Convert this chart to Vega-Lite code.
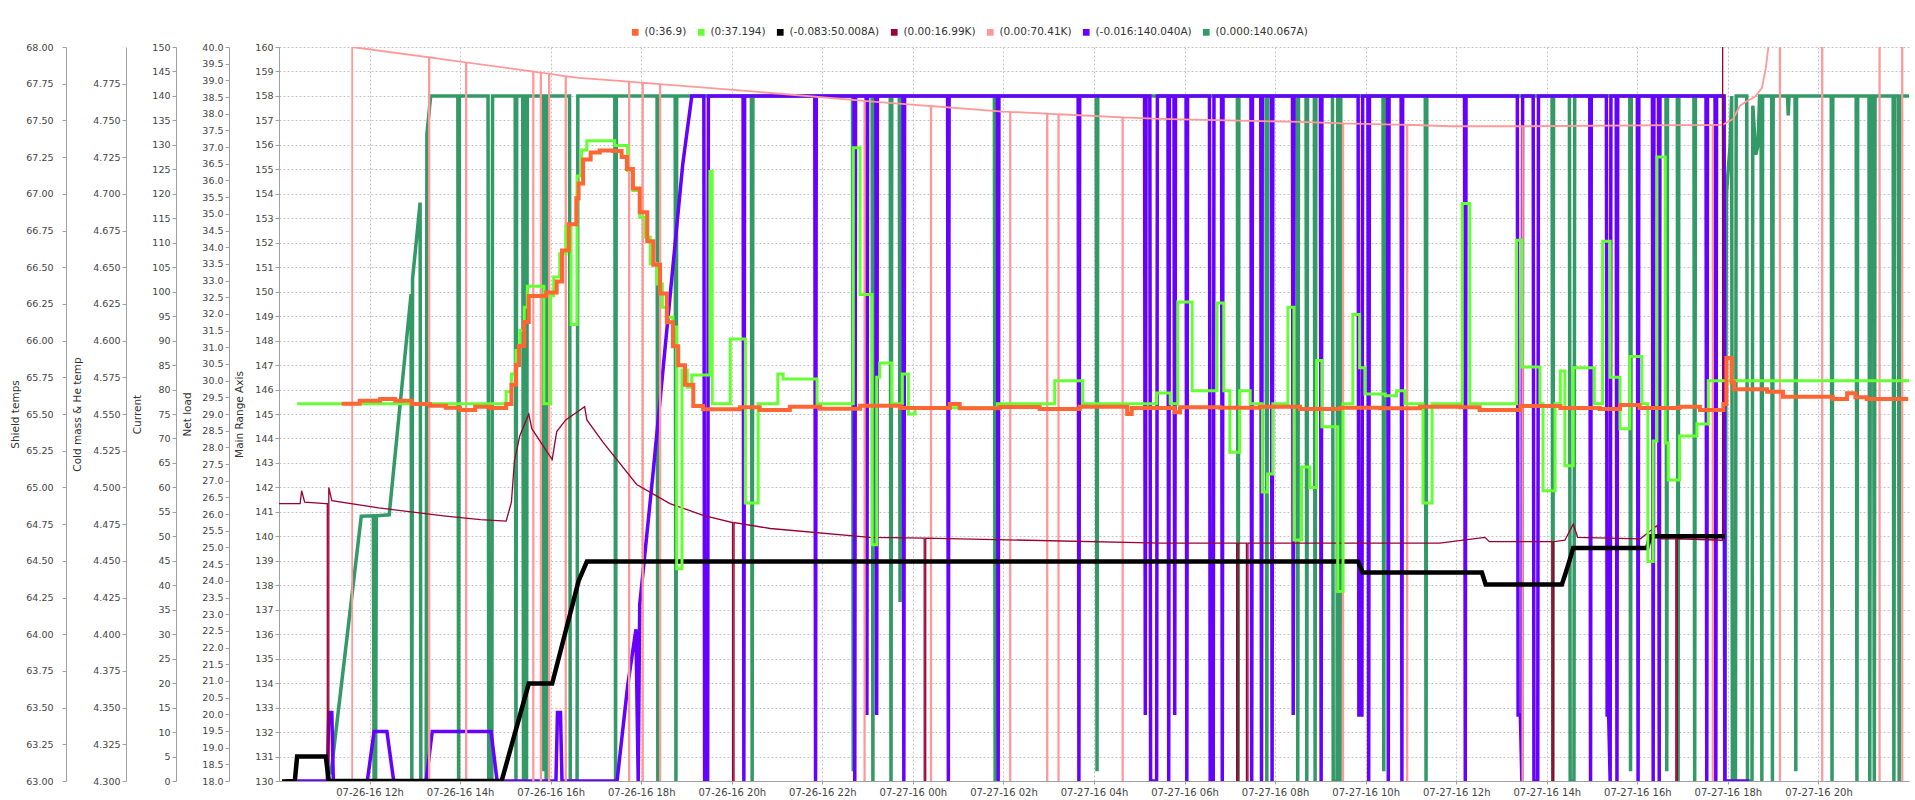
{
"$schema": "https://vega.github.io/schema/vega-lite/v6.json",
"width": 1630,
"height": 734,
"autosize": {"type": "none"},
"padding": {"left": 279, "top": 47, "right": 6, "bottom": 19},
"background": "white",
"config": {
  "view": {"stroke": null},
  "axis": {"domainColor": "#a0a0a0", "tickColor": "#a0a0a0", "labelFont": "DejaVu Sans", "labelFontSize": 9.5, "labelColor": "#444444", "titleFont": "DejaVu Sans", "titleFontSize": 10.5, "titleFontWeight": "normal", "titleColor": "#333333", "tickSize": 4, "labelPadding": 2, "grid": false, "labelFlush": false, "labelOverlap": false}
},
"datasets": {
  "main": [{"t": "2016-07-26T10:00", "v": 130}, {"t": "2016-07-27T22:00", "v": 160}],
  "orange": [
    {"t":"2016-07-26T11:23","v":29.31},{"t":"2016-07-26T11:47","v":29.40},{"t":"2016-07-26T12:14","v":29.45},{"t":"2016-07-26T12:34","v":29.40},{"t":"2016-07-26T12:56","v":29.30},{"t":"2016-07-26T13:20","v":29.25},{"t":"2016-07-26T13:41","v":29.19},{"t":"2016-07-26T14:00","v":29.12},{"t":"2016-07-26T14:20","v":29.22},{"t":"2016-07-26T14:40","v":29.18},{"t":"2016-07-26T15:01","v":29.30},{"t":"2016-07-26T15:08","v":29.88},{"t":"2016-07-26T15:14","v":30.47},{"t":"2016-07-26T15:18","v":31.04},{"t":"2016-07-26T15:25","v":31.76},{"t":"2016-07-26T15:31","v":32.54},{"t":"2016-07-26T15:54","v":32.64},{"t":"2016-07-26T16:08","v":32.97},{"t":"2016-07-26T16:15","v":33.90},{"t":"2016-07-26T16:24","v":34.69},{"t":"2016-07-26T16:34","v":35.47},{"t":"2016-07-26T16:37","v":35.91},{"t":"2016-07-26T16:43","v":36.63},{"t":"2016-07-26T16:53","v":36.84},{"t":"2016-07-26T17:05","v":36.90},{"t":"2016-07-26T17:23","v":36.88},{"t":"2016-07-26T17:34","v":36.70},{"t":"2016-07-26T17:41","v":36.34},{"t":"2016-07-26T17:49","v":35.76},{"t":"2016-07-26T17:58","v":35.05},{"t":"2016-07-26T18:08","v":34.18},{"t":"2016-07-26T18:16","v":33.47},{"t":"2016-07-26T18:25","v":32.61},{"t":"2016-07-26T18:34","v":31.75},{"t":"2016-07-26T18:42","v":31.03},{"t":"2016-07-26T18:49","v":30.46},{"t":"2016-07-26T18:58","v":29.88},{"t":"2016-07-26T19:09","v":29.24},{"t":"2016-07-26T19:22","v":29.14},
    {"t":"2016-07-26T20:11","v":29.20},{"t":"2016-07-26T20:37","v":29.12},{"t":"2016-07-26T21:17","v":29.22},{"t":"2016-07-26T21:57","v":29.16},{"t":"2016-07-26T22:50","v":29.25},{"t":"2016-07-26T23:43","v":29.18},{"t":"2016-07-27T00:49","v":29.30},{"t":"2016-07-27T01:02","v":29.17},{"t":"2016-07-27T01:55","v":29.21},{"t":"2016-07-27T02:48","v":29.15},{"t":"2016-07-27T03:41","v":29.22},{"t":"2016-07-27T04:44","v":29.00},{"t":"2016-07-27T04:50","v":29.18},{"t":"2016-07-27T05:47","v":29.05},{"t":"2016-07-27T05:54","v":29.20},{"t":"2016-07-27T06:47","v":29.19},{"t":"2016-07-27T07:40","v":29.22},{"t":"2016-07-27T08:33","v":29.15},{"t":"2016-07-27T09:26","v":29.19},{"t":"2016-07-27T10:19","v":29.17},{"t":"2016-07-27T11:12","v":29.22},{"t":"2016-07-27T12:05","v":29.20},{"t":"2016-07-27T12:31","v":29.12},{"t":"2016-07-27T13:25","v":29.24},{"t":"2016-07-27T14:18","v":29.18},{"t":"2016-07-27T15:10","v":29.15},{"t":"2016-07-27T15:37","v":29.27},{"t":"2016-07-27T16:03","v":29.18},{"t":"2016-07-27T16:56","v":29.22},{"t":"2016-07-27T17:23","v":29.12},{"t":"2016-07-27T17:54","v":29.30},{"t":"2016-07-27T17:58","v":30.68},{"t":"2016-07-27T18:05","v":29.95},{"t":"2016-07-27T18:08","v":29.74},{"t":"2016-07-27T18:52","v":29.67},{"t":"2016-07-27T19:13","v":29.52},{"t":"2016-07-27T20:19","v":29.45},{"t":"2016-07-27T20:38","v":29.62},{"t":"2016-07-27T20:49","v":29.50},{"t":"2016-07-27T21:04","v":29.45},{"t":"2016-07-27T21:59","v":29.45}
  ],
  "green": [
    {"t":"2016-07-26T10:24","v":29.31},{"t":"2016-07-26T15:01","v":29.67},{"t":"2016-07-26T15:08","v":30.2},{"t":"2016-07-26T15:14","v":30.9},{"t":"2016-07-26T15:19","v":31.5},{"t":"2016-07-26T15:25","v":32.2},{"t":"2016-07-26T15:29","v":32.83},{"t":"2016-07-26T15:51","v":29.31},{"t":"2016-07-26T16:00","v":32.55},{"t":"2016-07-26T16:04","v":33.11},{"t":"2016-07-26T16:12","v":33.8},{"t":"2016-07-26T16:20","v":34.62},{"t":"2016-07-26T16:27","v":31.68},{"t":"2016-07-26T16:35","v":36.13},{"t":"2016-07-26T16:41","v":36.91},{"t":"2016-07-26T16:48","v":37.19},{"t":"2016-07-26T17:25","v":37.05},{"t":"2016-07-26T17:42","v":36.3},{"t":"2016-07-26T17:49","v":35.7},{"t":"2016-07-26T17:58","v":34.9},{"t":"2016-07-26T18:05","v":34.3},{"t":"2016-07-26T18:12","v":33.5},{"t":"2016-07-26T18:21","v":32.9},{"t":"2016-07-26T18:28","v":32.2},{"t":"2016-07-26T18:34","v":31.9},{"t":"2016-07-26T18:42","v":31.61},{"t":"2016-07-26T18:47","v":24.36},{"t":"2016-07-26T18:54","v":30.32},{"t":"2016-07-26T19:01","v":29.8},{"t":"2016-07-26T19:07","v":30.17},{"t":"2016-07-26T19:31","v":36.27},{"t":"2016-07-26T19:34","v":29.31},{"t":"2016-07-26T19:58","v":31.25},{"t":"2016-07-26T20:18","v":26.33},{"t":"2016-07-26T20:35","v":29.31},{"t":"2016-07-26T21:01","v":30.2},{"t":"2016-07-26T21:08","v":30.05},{"t":"2016-07-26T21:53","v":29.31},{"t":"2016-07-26T22:41","v":36.98},{"t":"2016-07-26T22:50","v":32.58},{"t":"2016-07-26T23:06","v":25.08},{"t":"2016-07-26T23:12","v":30.1},{"t":"2016-07-26T23:16","v":30.53},{"t":"2016-07-26T23:32","v":29.31},{"t":"2016-07-26T23:46","v":30.2},{"t":"2016-07-26T23:54","v":29.0},{"t":"2016-07-27T00:03","v":29.19},{"t":"2016-07-27T01:52","v":29.31},{"t":"2016-07-27T03:08","v":30.0},{"t":"2016-07-27T03:45","v":29.31},{"t":"2016-07-27T05:23","v":29.63},{"t":"2016-07-27T05:41","v":29.31},{"t":"2016-07-27T05:51","v":32.36},{"t":"2016-07-27T06:10","v":29.7},{"t":"2016-07-27T06:43","v":32.33},{"t":"2016-07-27T06:52","v":29.7},{"t":"2016-07-27T07:00","v":27.85},{"t":"2016-07-27T07:13","v":29.7},{"t":"2016-07-27T07:27","v":29.31},{"t":"2016-07-27T07:43","v":26.66},{"t":"2016-07-27T07:50","v":27.2},{"t":"2016-07-27T07:57","v":29.31},{"t":"2016-07-27T08:17","v":32.2},{"t":"2016-07-27T08:25","v":25.22},{"t":"2016-07-27T08:35","v":27.41},{"t":"2016-07-27T08:46","v":26.8},{"t":"2016-07-27T08:55","v":30.6},{"t":"2016-07-27T09:02","v":28.62},{"t":"2016-07-27T09:23","v":23.68},{"t":"2016-07-27T09:30","v":29.31},{"t":"2016-07-27T09:43","v":31.98},{"t":"2016-07-27T09:52","v":30.39},{"t":"2016-07-27T09:59","v":29.6},{"t":"2016-07-27T10:26","v":29.55},{"t":"2016-07-27T10:41","v":29.7},{"t":"2016-07-27T10:52","v":29.31},{"t":"2016-07-27T11:16","v":26.33},{"t":"2016-07-27T11:28","v":29.31},{"t":"2016-07-27T12:08","v":35.31},{"t":"2016-07-27T12:18","v":29.31},{"t":"2016-07-27T13:20","v":34.21},{"t":"2016-07-27T13:27","v":30.41},{"t":"2016-07-27T13:51","v":29.31},{"t":"2016-07-27T13:55","v":26.7},{"t":"2016-07-27T14:11","v":29.31},{"t":"2016-07-27T14:18","v":30.29},{"t":"2016-07-27T14:24","v":27.45},{"t":"2016-07-27T14:35","v":30.39},{"t":"2016-07-27T15:03","v":29.31},{"t":"2016-07-27T15:14","v":34.18},{"t":"2016-07-27T15:24","v":30.1},{"t":"2016-07-27T15:37","v":28.56},{"t":"2016-07-27T15:50","v":30.72},{"t":"2016-07-27T16:06","v":29.31},{"t":"2016-07-27T16:14","v":24.58},{"t":"2016-07-27T16:21","v":28.19},{"t":"2016-07-27T16:26","v":36.7},{"t":"2016-07-27T16:37","v":28.13},{"t":"2016-07-27T16:41","v":27.02},{"t":"2016-07-27T16:56","v":28.34},{"t":"2016-07-27T17:19","v":28.7},{"t":"2016-07-27T17:34","v":30.0},{"t":"2016-07-27T22:00","v":30.0}
  ],
  "black": [
    {"t":"2016-07-26T10:04","v":-0.08},{"t":"2016-07-26T10:21","v":0},{"t":"2016-07-26T10:24","v":5.0},{"t":"2016-07-26T11:02","v":5.0},{"t":"2016-07-26T11:06","v":0},{"t":"2016-07-26T14:55","v":0},{"t":"2016-07-26T15:31","v":19.9},{"t":"2016-07-26T16:02","v":19.9},{"t":"2016-07-26T16:37","v":40.9},{"t":"2016-07-26T16:48","v":44.85},{"t":"2016-07-27T09:50","v":44.85},{"t":"2016-07-27T09:56","v":42.6},{"t":"2016-07-27T12:34","v":42.6},{"t":"2016-07-27T12:39","v":40.15},{"t":"2016-07-27T14:20","v":40.15},{"t":"2016-07-27T14:25","v":42.5},{"t":"2016-07-27T14:31","v":45.5},{"t":"2016-07-27T14:35","v":47.6},{"t":"2016-07-27T16:13","v":47.6},{"t":"2016-07-27T16:17","v":50.0},{"t":"2016-07-27T17:56","v":50.0}
  ],
  "darkred": [
    {"t":"2016-07-26T10:00","v":4.489},{"t":"2016-07-26T10:28","v":4.489},{"t":"2016-07-26T10:30","v":4.4977},{"t":"2016-07-26T10:34","v":4.490},{"t":"2016-07-26T11:02","v":4.489},{"t":"2016-07-26T11:04","v":4.489},{"t":"2016-07-26T11:05","v":0},{"t":"2016-07-26T11:06","v":4.500},{"t":"2016-07-26T11:10","v":4.491},{"t":"2016-07-26T12:12","v":4.486},{"t":"2016-07-26T13:41","v":4.4805},{"t":"2016-07-26T14:27","v":4.478},{"t":"2016-07-26T15:01","v":4.477},{"t":"2016-07-26T15:08","v":4.490},{"t":"2016-07-26T15:12","v":4.518},{"t":"2016-07-26T15:19","v":4.535},{"t":"2016-07-26T15:31","v":4.550},{"t":"2016-07-26T15:35","v":4.540},{"t":"2016-07-26T16:02","v":4.519},{"t":"2016-07-26T16:08","v":4.538},{"t":"2016-07-26T16:20","v":4.546},{"t":"2016-07-26T16:37","v":4.552},{"t":"2016-07-26T16:45","v":4.555},{"t":"2016-07-26T16:48","v":4.546},{"t":"2016-07-26T17:09","v":4.531},{"t":"2016-07-26T17:54","v":4.502},{"t":"2016-07-26T18:38","v":4.489},{"t":"2016-07-26T19:22","v":4.481},{"t":"2016-07-26T20:01","v":4.476},{"t":"2016-07-26T20:02","v":0},{"t":"2016-07-26T20:03","v":4.476},{"t":"2016-07-26T20:51","v":4.472},{"t":"2016-07-26T23:03","v":4.466},{"t":"2016-07-27T00:15","v":4.4655},{"t":"2016-07-27T00:16","v":0},{"t":"2016-07-27T00:17","v":4.4655},{"t":"2016-07-27T05:28","v":4.462},{"t":"2016-07-27T07:09","v":4.462},{"t":"2016-07-27T07:10","v":0},{"t":"2016-07-27T07:11","v":4.462},{"t":"2016-07-27T07:22","v":4.462},{"t":"2016-07-27T07:23","v":0},{"t":"2016-07-27T07:24","v":4.462},{"t":"2016-07-27T11:38","v":4.462},{"t":"2016-07-27T12:38","v":4.466},{"t":"2016-07-27T12:44","v":4.463},{"t":"2016-07-27T14:07","v":4.463},{"t":"2016-07-27T14:08","v":0},{"t":"2016-07-27T14:09","v":4.463},{"t":"2016-07-27T14:24","v":4.464},{"t":"2016-07-27T14:35","v":4.475},{"t":"2016-07-27T14:41","v":4.466},{"t":"2016-07-27T16:04","v":4.465},{"t":"2016-07-27T16:26","v":4.474},{"t":"2016-07-27T16:30","v":4.465},{"t":"2016-07-27T16:51","v":4.465},{"t":"2016-07-27T16:52","v":0},{"t":"2016-07-27T16:53","v":4.465},{"t":"2016-07-27T17:53","v":4.464},{"t":"2016-07-27T17:56","v":16.99},{"t":"2016-07-27T22:00","v":16.99}
  ],
  "pink": [
    {"t":"2016-07-26T11:36:40","v":0},{"t":"2016-07-26T11:37:00","v":68.0},
    {"t":"2016-07-26T13:18:40","v":67.93},{"t":"2016-07-26T13:19:00","v":0},{"t":"2016-07-26T13:19:20","v":67.93},
    {"t":"2016-07-26T14:07:40","v":67.895},{"t":"2016-07-26T14:08:00","v":0},{"t":"2016-07-26T14:08:20","v":67.895},
    {"t":"2016-07-26T15:36:40","v":67.833},{"t":"2016-07-26T15:37:00","v":0},{"t":"2016-07-26T15:37:20","v":67.833},
    {"t":"2016-07-26T15:46:40","v":67.825},{"t":"2016-07-26T15:47:00","v":0},{"t":"2016-07-26T15:47:20","v":67.825},
    {"t":"2016-07-26T15:57:40","v":67.818},{"t":"2016-07-26T15:58:00","v":0},{"t":"2016-07-26T15:58:20","v":67.818},
    {"t":"2016-07-26T16:19:40","v":67.80},{"t":"2016-07-26T16:20:00","v":0},{"t":"2016-07-26T16:20:20","v":67.80},
    {"t":"2016-07-26T16:37:00","v":67.79},
    {"t":"2016-07-26T17:43:40","v":67.764},{"t":"2016-07-26T17:44:00","v":0},{"t":"2016-07-26T17:44:20","v":67.764},
    {"t":"2016-07-26T18:01:40","v":67.756},{"t":"2016-07-26T18:02:00","v":0},{"t":"2016-07-26T18:02:20","v":67.756},
    {"t":"2016-07-26T18:24:40","v":67.747},{"t":"2016-07-26T18:25:00","v":0},{"t":"2016-07-26T18:25:20","v":67.747},
    {"t":"2016-07-26T19:58:00","v":67.71},
    {"t":"2016-07-26T22:55:40","v":67.633},{"t":"2016-07-26T22:56:00","v":0},{"t":"2016-07-26T22:56:20","v":67.633},
    {"t":"2016-07-26T23:03:00","v":67.63},
    {"t":"2016-07-27T00:23:40","v":67.598},{"t":"2016-07-27T00:24:00","v":0},{"t":"2016-07-27T00:24:20","v":67.598},
    {"t":"2016-07-27T01:59:00","v":67.56},
    {"t":"2016-07-27T02:08:40","v":67.558},{"t":"2016-07-27T02:09:00","v":0},{"t":"2016-07-27T02:09:20","v":67.558},
    {"t":"2016-07-27T02:57:40","v":67.546},{"t":"2016-07-27T02:58:00","v":0},{"t":"2016-07-27T02:58:20","v":67.546},
    {"t":"2016-07-27T03:12:40","v":67.542},{"t":"2016-07-27T03:13:00","v":0},{"t":"2016-07-27T03:13:20","v":67.542},
    {"t":"2016-07-27T04:37:40","v":67.52},{"t":"2016-07-27T04:38:00","v":0},{"t":"2016-07-27T04:38:20","v":67.52},
    {"t":"2016-07-27T05:28:00","v":67.51},{"t":"2016-07-27T08:33:00","v":67.49},
    {"t":"2016-07-27T09:29:40","v":67.48},{"t":"2016-07-27T09:30:00","v":0},{"t":"2016-07-27T09:30:20","v":67.48},
    {"t":"2016-07-27T10:54:40","v":67.47},{"t":"2016-07-27T10:55:00","v":0},{"t":"2016-07-27T10:55:20","v":67.47},
    {"t":"2016-07-27T11:52:00","v":67.46},
    {"t":"2016-07-27T13:27:40","v":67.46},{"t":"2016-07-27T13:28:00","v":0},{"t":"2016-07-27T13:28:20","v":67.46},
    {"t":"2016-07-27T17:39:40","v":67.47},{"t":"2016-07-27T17:40:00","v":0},{"t":"2016-07-27T17:40:20","v":67.47},
    {"t":"2016-07-27T17:53:00","v":67.47},{"t":"2016-07-27T18:07:00","v":67.51},{"t":"2016-07-27T18:16:00","v":67.60},{"t":"2016-07-27T18:25:00","v":67.63},{"t":"2016-07-27T18:36:00","v":67.66},{"t":"2016-07-27T18:45:00","v":67.72},{"t":"2016-07-27T18:50:00","v":67.85},{"t":"2016-07-27T18:55:00","v":68.05},{"t":"2016-07-27T18:59:00","v":70.41},
    {"t":"2016-07-27T19:08:40","v":70.41},{"t":"2016-07-27T19:09:00","v":0},{"t":"2016-07-27T19:09:20","v":70.41},
    {"t":"2016-07-27T20:04:40","v":70.41},{"t":"2016-07-27T20:05:00","v":0},{"t":"2016-07-27T20:05:20","v":70.41},
    {"t":"2016-07-27T21:20:40","v":70.41},{"t":"2016-07-27T21:21:00","v":0},{"t":"2016-07-27T21:21:20","v":70.41},
    {"t":"2016-07-27T21:50:40","v":70.41},{"t":"2016-07-27T21:51:00","v":0},{"t":"2016-07-27T21:51:20","v":70.41},
    {"t":"2016-07-27T22:00:00","v":70.41}
  ],
  "purple": [
    {"t":"2016-07-26T10:24","v":0},{"t":"2016-07-26T11:04","v":0},{"t":"2016-07-26T11:06","v":14},{"t":"2016-07-26T11:10","v":14},{"t":"2016-07-26T11:12","v":0},{"t":"2016-07-26T11:57","v":0},{"t":"2016-07-26T12:06","v":10.1},{"t":"2016-07-26T12:23","v":10.1},{"t":"2016-07-26T12:32","v":0},{"t":"2016-07-26T13:15","v":0},{"t":"2016-07-26T13:23","v":10.1},{"t":"2016-07-26T14:41","v":10.1},{"t":"2016-07-26T14:49","v":0},{"t":"2016-07-26T16:07","v":0},{"t":"2016-07-26T16:09","v":14},{"t":"2016-07-26T16:13","v":14},{"t":"2016-07-26T16:15","v":0},{"t":"2016-07-26T17:28","v":0},{"t":"2016-07-26T17:42","v":19.4},{"t":"2016-07-26T17:53","v":31},{"t":"2016-07-26T17:56","v":0},{"t":"2016-07-26T17:58","v":36},{"t":"2016-07-26T18:16","v":63.4},{"t":"2016-07-26T18:38","v":98.7},{"t":"2016-07-26T18:55","v":126},{"t":"2016-07-26T19:07","v":140},
    {"t":"2016-07-26T19:23","v":140},{"t":"2016-07-26T19:24","v":0},{"t":"2016-07-26T19:28","v":0},{"t":"2016-07-26T19:29","v":140},
    {"t":"2016-07-26T20:15","v":140},{"t":"2016-07-26T20:16","v":0},{"t":"2016-07-26T20:17","v":140},
    {"t":"2016-07-26T21:50","v":140},{"t":"2016-07-26T21:51","v":0},{"t":"2016-07-26T21:52","v":140},
    {"t":"2016-07-26T22:42","v":140},{"t":"2016-07-26T22:43","v":0},{"t":"2016-07-26T22:44","v":140},
    {"t":"2016-07-26T22:58","v":140},{"t":"2016-07-26T22:59","v":13.5},{"t":"2016-07-26T23:00","v":140},
    {"t":"2016-07-26T23:11","v":140},{"t":"2016-07-26T23:12","v":13.5},{"t":"2016-07-26T23:13","v":140},
    {"t":"2016-07-26T23:47","v":140},{"t":"2016-07-26T23:48","v":0},{"t":"2016-07-26T23:49","v":140},
    {"t":"2016-07-27T00:46","v":140},{"t":"2016-07-27T00:47","v":0},{"t":"2016-07-27T00:48","v":140},
    {"t":"2016-07-27T01:52","v":140},{"t":"2016-07-27T01:53","v":0},{"t":"2016-07-27T01:54","v":140},
    {"t":"2016-07-27T03:39","v":140},{"t":"2016-07-27T03:40","v":0},{"t":"2016-07-27T03:41","v":140},
    {"t":"2016-07-27T05:07","v":140},{"t":"2016-07-27T05:08","v":13.5},{"t":"2016-07-27T05:09","v":140},
    {"t":"2016-07-27T05:14","v":140},{"t":"2016-07-27T05:15","v":0},{"t":"2016-07-27T05:23","v":0},{"t":"2016-07-27T05:24","v":140},
    {"t":"2016-07-27T05:38","v":140},{"t":"2016-07-27T05:39","v":0},{"t":"2016-07-27T05:40","v":140},
    {"t":"2016-07-27T05:46","v":140},{"t":"2016-07-27T05:47","v":13.5},{"t":"2016-07-27T05:48","v":140},
    {"t":"2016-07-27T06:02","v":140},{"t":"2016-07-27T06:03","v":0},{"t":"2016-07-27T06:04","v":140},
    {"t":"2016-07-27T06:33","v":140},{"t":"2016-07-27T06:34","v":0},{"t":"2016-07-27T06:38","v":0},{"t":"2016-07-27T06:39","v":140},
    {"t":"2016-07-27T06:49","v":140},{"t":"2016-07-27T06:50","v":0},{"t":"2016-07-27T06:51","v":140},
    {"t":"2016-07-27T07:28","v":140},{"t":"2016-07-27T07:29","v":0},{"t":"2016-07-27T07:30","v":140},
    {"t":"2016-07-27T07:41","v":140},{"t":"2016-07-27T07:42","v":0},{"t":"2016-07-27T07:43","v":140},
    {"t":"2016-07-27T07:55","v":140},{"t":"2016-07-27T07:56","v":0},{"t":"2016-07-27T07:57","v":140},
    {"t":"2016-07-27T08:23","v":140},{"t":"2016-07-27T08:24","v":13.5},{"t":"2016-07-27T08:25","v":140},
    {"t":"2016-07-27T09:00","v":140},{"t":"2016-07-27T09:01","v":0},{"t":"2016-07-27T09:02","v":140},
    {"t":"2016-07-27T09:50","v":140},{"t":"2016-07-27T09:51","v":13.5},{"t":"2016-07-27T09:55","v":13.5},{"t":"2016-07-27T09:56","v":140},
    {"t":"2016-07-27T10:03","v":140},{"t":"2016-07-27T10:04","v":0},{"t":"2016-07-27T10:05","v":140},
    {"t":"2016-07-27T10:29","v":140},{"t":"2016-07-27T10:30","v":0},{"t":"2016-07-27T10:31","v":140},
    {"t":"2016-07-27T10:47","v":140},{"t":"2016-07-27T10:48","v":0},{"t":"2016-07-27T10:49","v":140},
    {"t":"2016-07-27T12:11","v":140},{"t":"2016-07-27T12:12","v":0},{"t":"2016-07-27T12:13","v":140},
    {"t":"2016-07-27T13:21","v":140},{"t":"2016-07-27T13:22","v":13.5},{"t":"2016-07-27T13:25","v":13.5},{"t":"2016-07-27T13:27","v":0},{"t":"2016-07-27T13:28","v":140},
    {"t":"2016-07-27T13:42","v":140},{"t":"2016-07-27T13:43","v":0},{"t":"2016-07-27T13:48","v":0},{"t":"2016-07-27T13:49","v":140},
    {"t":"2016-07-27T14:57","v":140},{"t":"2016-07-27T14:58","v":0},{"t":"2016-07-27T14:59","v":140},
    {"t":"2016-07-27T15:19","v":140},{"t":"2016-07-27T15:20","v":13.5},{"t":"2016-07-27T15:22","v":13.5},{"t":"2016-07-27T15:24","v":0},{"t":"2016-07-27T15:25","v":140},
    {"t":"2016-07-27T15:32","v":140},{"t":"2016-07-27T15:33","v":0},{"t":"2016-07-27T15:34","v":140},
    {"t":"2016-07-27T16:00","v":140},{"t":"2016-07-27T16:01","v":0},{"t":"2016-07-27T16:02","v":140},
    {"t":"2016-07-27T16:20","v":140},{"t":"2016-07-27T16:21","v":0},{"t":"2016-07-27T16:22","v":140},
    {"t":"2016-07-27T16:28","v":140},{"t":"2016-07-27T16:29","v":0},{"t":"2016-07-27T16:30","v":140},
    {"t":"2016-07-27T17:31","v":140},{"t":"2016-07-27T17:32","v":0},{"t":"2016-07-27T17:33","v":140},
    {"t":"2016-07-27T17:43","v":140},{"t":"2016-07-27T17:44","v":0},{"t":"2016-07-27T17:45","v":140},
    {"t":"2016-07-27T17:55","v":140},{"t":"2016-07-27T17:56","v":0},{"t":"2016-07-27T18:28","v":0}
  ],
  "darkgreen": [
    {"t":"2016-07-26T11:06","v":1.7},{"t":"2016-07-26T11:09","v":1.7},{"t":"2016-07-26T11:49","v":54.1},{"t":"2016-07-26T12:05","v":54.2},{"t":"2016-07-26T12:06","v":0},{"t":"2016-07-26T12:08","v":0},{"t":"2016-07-26T12:09","v":54.2},{"t":"2016-07-26T12:26","v":54.4},{"t":"2016-07-26T12:55","v":99.5},{"t":"2016-07-26T12:56","v":0},{"t":"2016-07-26T12:57","v":102.6},{"t":"2016-07-26T13:07","v":118.2},{"t":"2016-07-26T13:08","v":0},{"t":"2016-07-26T13:15","v":0},{"t":"2016-07-26T13:16","v":132.2},{"t":"2016-07-26T13:21","v":140},
    {"t":"2016-07-26T13:57","v":140},{"t":"2016-07-26T13:58","v":0},{"t":"2016-07-26T13:59","v":140},
    {"t":"2016-07-26T14:37","v":140},{"t":"2016-07-26T14:38","v":0},{"t":"2016-07-26T14:42","v":0},{"t":"2016-07-26T14:43","v":140},
    {"t":"2016-07-26T15:13","v":140},{"t":"2016-07-26T15:14","v":0},{"t":"2016-07-26T15:15","v":140},
    {"t":"2016-07-26T15:23","v":140},{"t":"2016-07-26T15:24","v":0},{"t":"2016-07-26T15:25","v":140},
    {"t":"2016-07-26T15:27","v":140},{"t":"2016-07-26T15:28","v":0},{"t":"2016-07-26T15:29","v":140},
    {"t":"2016-07-26T15:50","v":140},{"t":"2016-07-26T15:51","v":2},{"t":"2016-07-26T15:52","v":140},
    {"t":"2016-07-26T15:53","v":140},{"t":"2016-07-26T15:54","v":0},{"t":"2016-07-26T15:55","v":140},
    {"t":"2016-07-26T16:25","v":140},{"t":"2016-07-26T16:26","v":0},{"t":"2016-07-26T16:35","v":0},{"t":"2016-07-26T16:36","v":140},
    {"t":"2016-07-26T17:25","v":140},{"t":"2016-07-26T17:26","v":0},{"t":"2016-07-26T17:27","v":140},
    {"t":"2016-07-26T18:21","v":140},{"t":"2016-07-26T18:22","v":0},{"t":"2016-07-26T18:23","v":140},
    {"t":"2016-07-26T18:45","v":140},{"t":"2016-07-26T18:46","v":0},{"t":"2016-07-26T18:47","v":140},
    {"t":"2016-07-26T20:26","v":140},{"t":"2016-07-26T20:27","v":0},{"t":"2016-07-26T20:28","v":140},
    {"t":"2016-07-26T22:40","v":140},{"t":"2016-07-26T22:41","v":2},{"t":"2016-07-26T22:42","v":140},
    {"t":"2016-07-26T23:06","v":140},{"t":"2016-07-26T23:07","v":0},{"t":"2016-07-26T23:08","v":140},
    {"t":"2016-07-26T23:30","v":140},{"t":"2016-07-26T23:31","v":0},{"t":"2016-07-26T23:32","v":140},
    {"t":"2016-07-26T23:42","v":140},{"t":"2016-07-26T23:43","v":36.6},{"t":"2016-07-26T23:44","v":140},
    {"t":"2016-07-27T01:48","v":140},{"t":"2016-07-27T01:49","v":0},{"t":"2016-07-27T01:50","v":140},
    {"t":"2016-07-27T04:03","v":140},{"t":"2016-07-27T04:04","v":2},{"t":"2016-07-27T04:05","v":140},
    {"t":"2016-07-27T07:10","v":140},{"t":"2016-07-27T07:11","v":0},{"t":"2016-07-27T07:12","v":140},
    {"t":"2016-07-27T07:48","v":140},{"t":"2016-07-27T07:49","v":0},{"t":"2016-07-27T07:50","v":140},
    {"t":"2016-07-27T08:29","v":140},{"t":"2016-07-27T08:30","v":0},{"t":"2016-07-27T08:31","v":140},
    {"t":"2016-07-27T08:41","v":140},{"t":"2016-07-27T08:42","v":0},{"t":"2016-07-27T08:43","v":140},
    {"t":"2016-07-27T08:52","v":140},{"t":"2016-07-27T08:53","v":0},{"t":"2016-07-27T08:54","v":140},
    {"t":"2016-07-27T09:16","v":140},{"t":"2016-07-27T09:17","v":0},{"t":"2016-07-27T09:22","v":0},{"t":"2016-07-27T09:23","v":140},
    {"t":"2016-07-27T09:25","v":140},{"t":"2016-07-27T09:26","v":0},{"t":"2016-07-27T09:27","v":140},
    {"t":"2016-07-27T10:23","v":140},{"t":"2016-07-27T10:24","v":2},{"t":"2016-07-27T10:25","v":140},
    {"t":"2016-07-27T11:19","v":140},{"t":"2016-07-27T11:20","v":0},{"t":"2016-07-27T11:21","v":140},
    {"t":"2016-07-27T14:07","v":140},{"t":"2016-07-27T14:08","v":0},{"t":"2016-07-27T14:09","v":140},
    {"t":"2016-07-27T14:30","v":140},{"t":"2016-07-27T14:31","v":0},{"t":"2016-07-27T14:36","v":0},{"t":"2016-07-27T14:37","v":140},
    {"t":"2016-07-27T15:50","v":140},{"t":"2016-07-27T15:51","v":2},{"t":"2016-07-27T15:52","v":140},
    {"t":"2016-07-27T16:38","v":140},{"t":"2016-07-27T16:39","v":2},{"t":"2016-07-27T16:40","v":140},
    {"t":"2016-07-27T16:53","v":140},{"t":"2016-07-27T16:54","v":0},{"t":"2016-07-27T16:55","v":140},
    {"t":"2016-07-27T17:15","v":140},{"t":"2016-07-27T17:16","v":0},{"t":"2016-07-27T17:17","v":140},
    {"t":"2016-07-27T17:54","v":140},{"t":"2016-07-27T17:56","v":0},{"t":"2016-07-27T17:58","v":120},{"t":"2016-07-27T18:03","v":130},{"t":"2016-07-27T18:05","v":140},{"t":"2016-07-27T18:06","v":0},{"t":"2016-07-27T18:10","v":0},{"t":"2016-07-27T18:11","v":140},
    {"t":"2016-07-27T18:25","v":140},{"t":"2016-07-27T18:26","v":0},{"t":"2016-07-27T18:32","v":0},{"t":"2016-07-27T18:33","v":138},{"t":"2016-07-27T18:37","v":128},{"t":"2016-07-27T18:40","v":130},{"t":"2016-07-27T18:42","v":140},
    {"t":"2016-07-27T18:44","v":140},{"t":"2016-07-27T18:45","v":0},{"t":"2016-07-27T18:46","v":140},
    {"t":"2016-07-27T18:58","v":140},{"t":"2016-07-27T18:59","v":0},{"t":"2016-07-27T19:00","v":140},
    {"t":"2016-07-27T19:19","v":140},{"t":"2016-07-27T19:20","v":136},{"t":"2016-07-27T19:21","v":140},
    {"t":"2016-07-27T19:29","v":140},{"t":"2016-07-27T19:30","v":2},{"t":"2016-07-27T19:31","v":140},
    {"t":"2016-07-27T20:17","v":140},{"t":"2016-07-27T20:18","v":0},{"t":"2016-07-27T20:19","v":140},
    {"t":"2016-07-27T20:50","v":140},{"t":"2016-07-27T20:51","v":0},{"t":"2016-07-27T20:52","v":140},
    {"t":"2016-07-27T21:07","v":140},{"t":"2016-07-27T21:08","v":0},{"t":"2016-07-27T21:09","v":140},
    {"t":"2016-07-27T21:13","v":140},{"t":"2016-07-27T21:14","v":0},{"t":"2016-07-27T21:15","v":140},
    {"t":"2016-07-27T21:39","v":140},{"t":"2016-07-27T21:40","v":0},{"t":"2016-07-27T21:41","v":140},
    {"t":"2016-07-27T21:46","v":140},{"t":"2016-07-27T21:47","v":0},{"t":"2016-07-27T21:48","v":140},
    {"t":"2016-07-27T22:00","v":140}
  ]
},
"encoding": {
  "x": {"field": "t", "type": "temporal",
    "scale": {"domain": [{"year": 2016, "month": 7, "date": 26, "hours": 10}, {"year": 2016, "month": 7, "date": 27, "hours": 22}]},
    "axis": {"title": null, "format": "%m-%d-%y %Hh", "labelFontSize": 10, "tickSize": 3, "labelPadding": 3, "grid": true, "gridDash": [2, 2], "gridColor": "#c4c4c4",
      "values": [{"year": 2016, "month": 7, "date": 26, "hours": 12}, {"year": 2016, "month": 7, "date": 26, "hours": 14}, {"year": 2016, "month": 7, "date": 26, "hours": 16}, {"year": 2016, "month": 7, "date": 26, "hours": 18}, {"year": 2016, "month": 7, "date": 26, "hours": 20}, {"year": 2016, "month": 7, "date": 26, "hours": 22}, {"year": 2016, "month": 7, "date": 27, "hours": 0}, {"year": 2016, "month": 7, "date": 27, "hours": 2}, {"year": 2016, "month": 7, "date": 27, "hours": 4}, {"year": 2016, "month": 7, "date": 27, "hours": 6}, {"year": 2016, "month": 7, "date": 27, "hours": 8}, {"year": 2016, "month": 7, "date": 27, "hours": 10}, {"year": 2016, "month": 7, "date": 27, "hours": 12}, {"year": 2016, "month": 7, "date": 27, "hours": 14}, {"year": 2016, "month": 7, "date": 27, "hours": 16}, {"year": 2016, "month": 7, "date": 27, "hours": 18}, {"year": 2016, "month": 7, "date": 27, "hours": 20}]}}
},
"layer": [
  {"data": {"name": "main"}, "mark": {"type": "point", "opacity": 0},
   "encoding": {"y": {"field": "v", "type": "quantitative", "scale": {"domain": [130, 160], "nice": false, "zero": false},
     "axis": {"orient": "left", "offset": 0, "title": "Main Range Axis", "titlePadding": 10, "format": "d", "grid": true, "gridDash": [2, 2], "gridColor": "#c4c4c4",
       "values": [130,131,132,133,134,135,136,137,138,139,140,141,142,143,144,145,146,147,148,149,150,151,152,153,154,155,156,157,158,159,160]}}}},
  {"data": {"name": "darkgreen"}, "mark": {"type": "line", "strokeWidth": 3.5, "clip": true},
   "encoding": {"y": {"field": "v", "type": "quantitative", "scale": {"domain": [0, 150], "nice": false, "zero": false},
     "axis": {"orient": "left", "offset": 103, "title": "Current", "titlePadding": 9, "format": "d",
       "values": [0,5,10,15,20,25,30,35,40,45,50,55,60,65,70,75,80,85,90,95,100,105,110,115,120,125,130,135,140,145,150]}},
     "color": {"datum": "(0.000:140.067A)",
       "scale": {"domain": ["(0:36.9)", "(0:37.194)", "(-0.083:50.008A)", "(0.00:16.99K)", "(0.00:70.41K)", "(-0.016:140.040A)", "(0.000:140.067A)"], "range": ["#ff6633", "#66ff33", "#000000", "#990033", "#ff9999", "#6600ff", "#339966"]},
       "legend": {"orient": "none", "legendX": 351, "legendY": -20, "direction": "horizontal", "title": null, "symbolType": "square", "symbolSize": 45, "labelFont": "DejaVu Sans", "labelFontSize": 10.5, "labelColor": "#333333", "columnPadding": 9, "labelOffset": 4,
         "encode": {"symbols": {"update": {"fill": {"scale": "color", "field": "value"}, "strokeWidth": {"value": 0}, "opacity": {"value": 1}}}}}}}},
  {"data": {"name": "purple"}, "mark": {"type": "line", "strokeWidth": 3.5, "clip": true},
   "encoding": {"y": {"field": "v", "type": "quantitative", "scale": {"domain": [0, 150], "nice": false, "zero": false}, "axis": null},
     "color": {"datum": "(-0.016:140.040A)"}}},
  {"data": {"name": "pink"}, "mark": {"type": "line", "strokeWidth": 1.8, "clip": true},
   "encoding": {"y": {"field": "v", "type": "quantitative", "scale": {"domain": [63, 68], "nice": false, "zero": false},
     "axis": {"orient": "left", "offset": 213, "title": "Shield temps", "titlePadding": 5, "labelPadding": 9, "format": ".2f",
       "values": [63,63.25,63.5,63.75,64,64.25,64.5,64.75,65,65.25,65.5,65.75,66,66.25,66.5,66.75,67,67.25,67.5,67.75,68]}},
     "color": {"datum": "(0.00:70.41K)"}}},
  {"data": {"name": "darkred"}, "mark": {"type": "line", "strokeWidth": 1.3, "clip": true},
   "encoding": {"y": {"field": "v", "type": "quantitative", "scale": {"domain": [4.3, 4.8], "nice": false, "zero": false},
     "axis": {"orient": "left", "offset": 153, "title": "Cold mass & He temp", "titlePadding": 10, "format": ".3f",
       "values": [4.3,4.325,4.35,4.375,4.4,4.425,4.45,4.475,4.5,4.525,4.55,4.575,4.6,4.625,4.65,4.675,4.7,4.725,4.75,4.775]}},
     "color": {"datum": "(0.00:16.99K)"}}},
  {"data": {"name": "black"}, "mark": {"type": "line", "strokeWidth": 4.5, "clip": true},
   "encoding": {"y": {"field": "v", "type": "quantitative", "scale": {"domain": [0, 150], "nice": false, "zero": false}, "axis": null},
     "color": {"datum": "(-0.083:50.008A)"}}},
  {"data": {"name": "green"}, "mark": {"type": "line", "strokeWidth": 3, "interpolate": "step-after", "clip": true},
   "encoding": {"y": {"field": "v", "type": "quantitative", "scale": {"domain": [18, 40], "nice": false, "zero": false},
     "axis": {"orient": "left", "offset": 50, "title": "Net load", "titlePadding": 9, "format": ".1f",
       "values": [18,18.5,19,19.5,20,20.5,21,21.5,22,22.5,23,23.5,24,24.5,25,25.5,26,26.5,27,27.5,28,28.5,29,29.5,30,30.5,31,31.5,32,32.5,33,33.5,34,34.5,35,35.5,36,36.5,37,37.5,38,38.5,39,39.5,40]}},
     "color": {"datum": "(0:37.194)"}}},
  {"data": {"name": "orange"}, "mark": {"type": "line", "strokeWidth": 4, "interpolate": "step-after", "clip": true},
   "encoding": {"y": {"field": "v", "type": "quantitative", "scale": {"domain": [18, 40], "nice": false, "zero": false}, "axis": null},
     "color": {"datum": "(0:36.9)"}}}
],
"resolve": {"scale": {"y": "independent"}, "axis": {"y": "independent"}}
}
